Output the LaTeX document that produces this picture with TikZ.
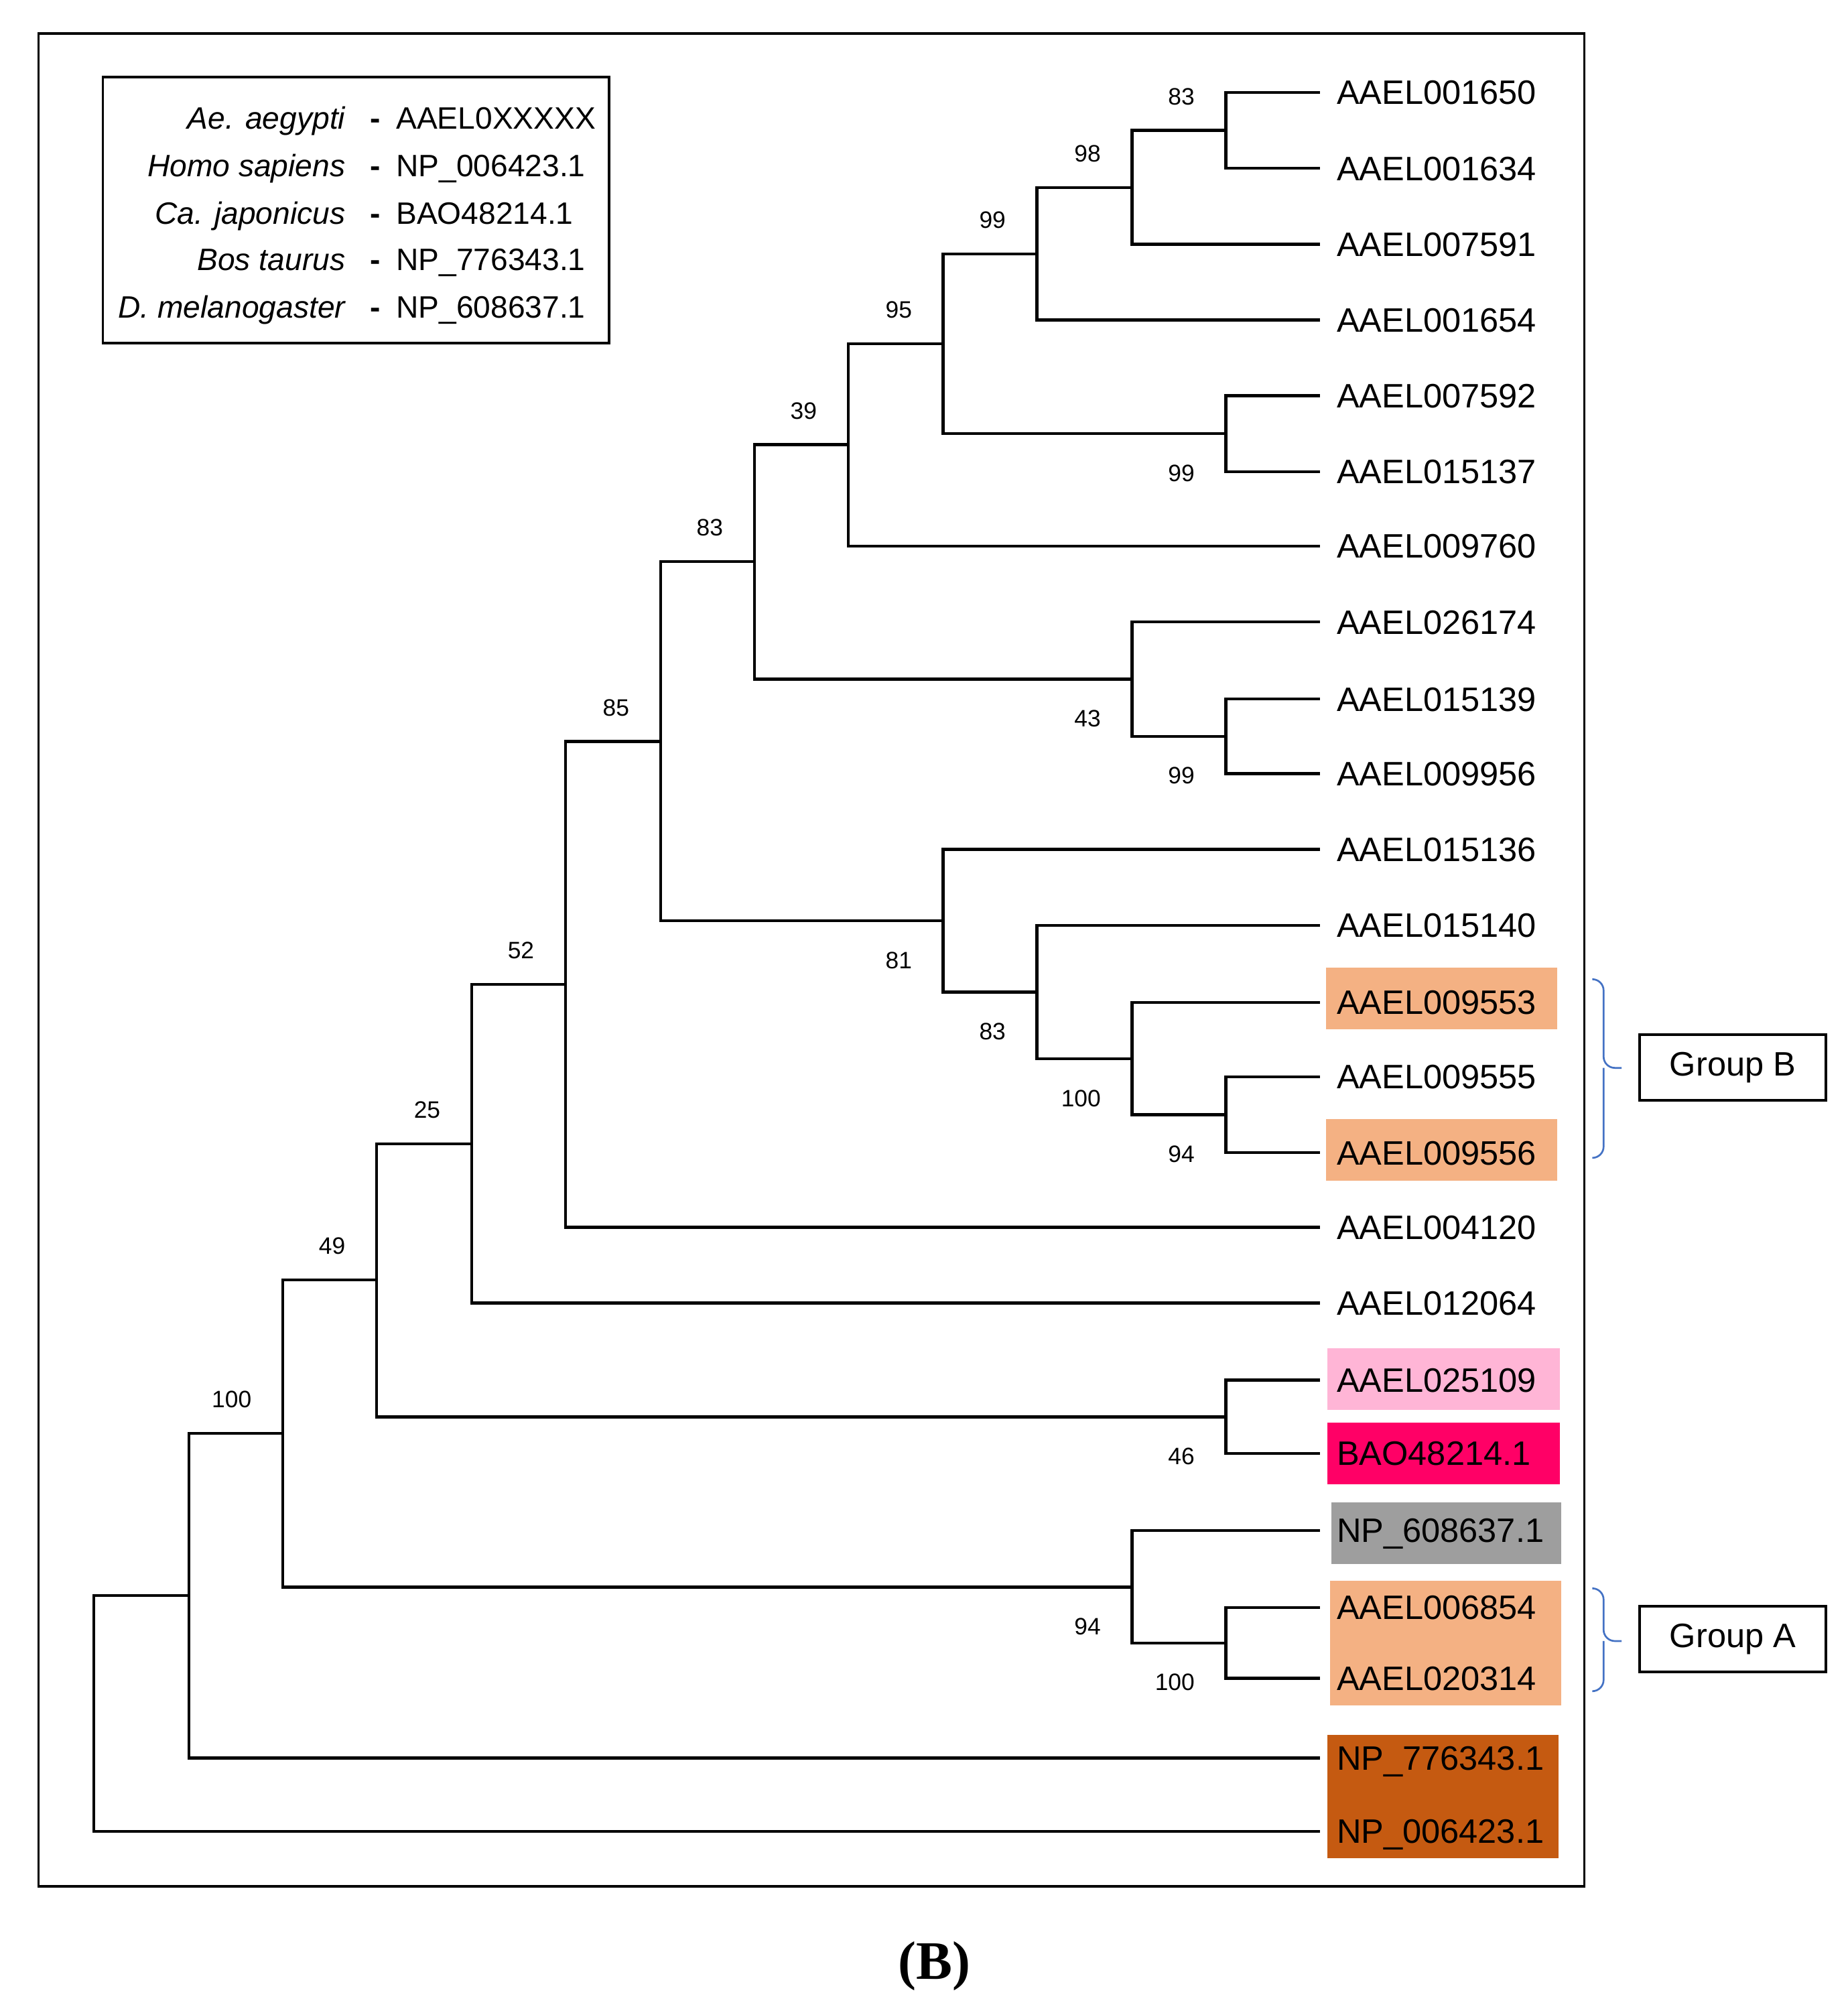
\documentclass[tikz,border=0pt]{standalone}
\usepackage{fontspec}
\setmainfont{Liberation Sans}
\newfontfamily\captionserif{Liberation Serif}

\definecolor{peach}{HTML}{F4B183}
\definecolor{softpink}{HTML}{FFB5D6}
\definecolor{hotpink}{HTML}{FF0066}
\definecolor{midgray}{HTML}{9E9E9E}
\definecolor{rust}{HTML}{C55A11}
\definecolor{braceblue}{HTML}{4472C4}

\tikzset{
  branch/.style={line width=1.3pt},
  leaf/.style={anchor=west, inner sep=0pt, text height=10.6pt, text depth=0pt,
    font=\fontsize{15}{18}\selectfont},
  boot/.style={anchor=base east, inner sep=0pt, font=\fontsize{10.5}{12}\selectfont},
  legname/.style={anchor=east, inner sep=0pt, text height=9.8pt, text depth=0pt,
    font=\fontsize{13.7}{16}\selectfont\itshape},
  legid/.style={anchor=west, inner sep=0pt, text height=9.8pt, text depth=0pt,
    font=\fontsize{13.7}{16}\selectfont},
  groupbox/.style={draw, line width=1.2pt, minimum width=2.9cm, minimum height=1.02cm,
    font=\fontsize{15}{18}\selectfont},
  groupbrace/.style={draw=braceblue, line width=0.8pt, rounded corners=5}
}

\begin{document}
\begin{tikzpicture}[x=0.02cm, y=-0.02cm]
\useasboundingbox (0,0) rectangle (1438,1568);

\draw[line width=1.1pt] (30,26) rectangle (1233,1468);

\draw[line width=1.1pt] (80,60) rectangle (474,267);
\foreach \sp/\acc/\y [count=\k] in {Ae. aegypti/AAEL0XXXXX/92,
    Homo sapiens/NP\_006423.1/129, Ca. japonicus/BAO48214.1/166,
    Bos taurus/NP\_776343.1/202, D. melanogaster/NP\_608637.1/239} {
  \node[legname] (sp\k) at (269,\y) {\sp};
  \node[legid] (dash\k) at (288,\y) {\textbf{-}};
  \node[legid] (acc\k) at (308,\y) {\acc};
}

\fill[peach] (1032,753) rectangle (1212,801);
\fill[peach] (1032,871) rectangle (1212,919);
\fill[softpink] (1033,1049) rectangle (1214,1097);
\fill[hotpink] (1033,1107) rectangle (1214,1155);
\fill[midgray] (1036,1169) rectangle (1215,1217);
\fill[peach] (1035,1230) rectangle (1215,1327);
\fill[rust] (1033,1350) rectangle (1213,1446);

\foreach \id/\y [count=\i] in {AAEL001650/72, AAEL001634/131, AAEL007591/190,
    AAEL001654/249, AAEL007592/308, AAEL015137/367, AAEL009760/425,
    AAEL026174/484, AAEL015139/544, AAEL009956/602, AAEL015136/661,
    AAEL015140/720, AAEL009553/780, AAEL009555/838, AAEL009556/897,
    AAEL004120/955, AAEL012064/1014, AAEL025109/1074, BAO48214.1/1131,
    NP\_608637.1/1191, AAEL006854/1251, AAEL020314/1306,
    NP\_776343.1/1368, NP\_006423.1/1425} {
  \coordinate (l\i) at (1027,\y);
  \node[leaf] (t\i) at (1040,\y) {\id};
}

\foreach \nd/\x/\y in {c1/954/101.5, c2/881/146, c3/807/197.5, c4/954/337.5,
    c5/734/267.5, c6/660/346, c7/954/573, c8/881/528.5, c9/587/437,
    c10/954/867.5, c11/881/824, c12/807/772, c13/734/716.5, c14/514/577,
    c15/440/766, c16/367/890, c17/954/1102.5, c18/293/996, c19/954/1278.5,
    c20/881/1235, c21/220/1115.5, c22/147/1241.5, c23/73/1333}
  \coordinate (\nd) at (\x,\y);

\foreach \up/\nd/\dn in {l1/c1/l2, c1/c2/l3, c2/c3/l4, l5/c4/l6, c3/c5/c4,
    c5/c6/l7, l9/c7/l10, l8/c8/c7, c6/c9/c8, l14/c10/l15, l13/c11/c10,
    l12/c12/c11, l11/c13/c12, c9/c14/c13, c14/c15/l16, c15/c16/l17,
    l18/c17/l19, c16/c18/c17, l21/c19/l22, l20/c20/c19, c18/c21/c20,
    c21/c22/l23, c22/c23/l24}
  \draw[branch] (\up) -| (\nd) |- (\dn);

\foreach \nd/\v in {c1/83, c2/98, c3/99, c5/95, c6/39, c9/83, c14/85,
    c15/52, c16/25, c18/49, c21/100}
  \path (\nd) ++(-24,-20) node[boot] {\v};
\foreach \nd/\v in {c4/99, c7/99, c8/43, c10/94, c11/100, c12/83, c13/81,
    c17/46, c19/100, c20/94}
  \path (\nd) ++(-24,37) node[boot] {\v};

\coordinate (gB1) at (1240,762);
\coordinate (gBtip) at (1262,831);
\coordinate (gB2) at (1240,901);
\coordinate (gA1) at (1240,1236);
\coordinate (gAtip) at (1262,1277);
\coordinate (gA2) at (1240,1316);
\draw[groupbrace] (gB1) -| ([xshift=-8]gBtip) -- (gBtip);
\draw[groupbrace] (gB2) -| ([xshift=-8]gBtip);
\draw[groupbrace] (gA1) -| ([xshift=-8]gAtip) -- (gAtip);
\draw[groupbrace] (gA2) -| ([xshift=-8]gAtip);
\node[groupbox] (grpB) at (1348.5,830.5) {Group B};
\node[groupbox] (grpA) at (1348.5,1275.5) {Group A};

\node (panel) at (727,1530) {\fontsize{24}{28}\selectfont\captionserif\bfseries (B)};
\end{tikzpicture}
\end{document}
